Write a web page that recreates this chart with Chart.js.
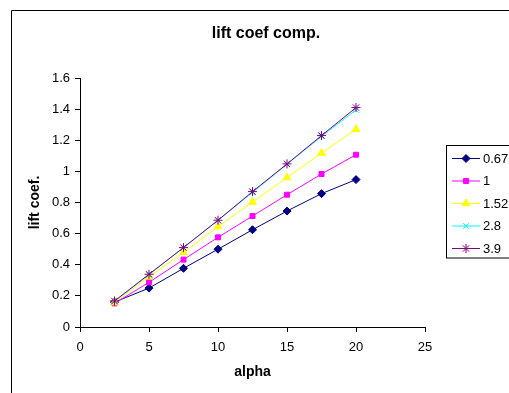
<!DOCTYPE html>
<html>
<head>
<meta charset="utf-8">
<script src="https://cdn.jsdelivr.net/npm/chart.js@4.4.1/dist/chart.umd.min.js"></script>
<style>
  html,body{margin:0;padding:0;background:#fff;}
  #c{display:block;}
</style>
</head>
<body>
<canvas id="c" width="509" height="393"></canvas>
<script>
// alpha values (x)
const alpha = [2.5, 5, 7.5, 10, 12.5, 15, 17.5, 20];
// lift coefficient per series
const s067 = [0.16, 0.25, 0.377, 0.50, 0.625, 0.745, 0.857, 0.947];
const s1   = [0.152, 0.287, 0.433, 0.576, 0.713, 0.85, 0.983, 1.107];
const s152 = [0.157, 0.323, 0.48, 0.645, 0.803, 0.96, 1.118, 1.27];
const s28  = [0.165, 0.335, 0.512, 0.685, 0.865, 1.045, 1.225, 1.395];
const s39  = [0.167, 0.339, 0.51, 0.686, 0.87, 1.048, 1.23, 1.41];
const seriesNames = ['0.67', '1', '1.52', '2.8', '3.9'];
const xTicks = [0, 5, 10, 15, 20, 25];
const chartTitle = 'lift coef comp.';

const FONT = "'Liberation Sans', Arial, sans-serif";
const pts = arr => arr.map((v,i)=>({x: alpha[i], y: v}));

const styles = [
  {color:'#000080', point:'rectRot', r:4},
  {color:'#ff00ff', point:'rect', r:3.5},
  {color:'#ffff00', point:'triangle', r:4.5},
  {color:'#00ffff', point:'crossRot', r:4},
  {color:'#800080', point:'star', r:4.5}
];
const values = [s067, s1, s152, s28, s39];

const datasets = values.map((v,i)=>({
  label: seriesNames[i],
  data: pts(v),
  borderColor: styles[i].color,
  backgroundColor: styles[i].color,
  borderWidth: 1,
  pointStyle: styles[i].point,
  pointRadius: styles[i].r,
  pointBorderWidth: 1,
  order: 5 - i
}));

// frame, title and legend drawn like the original
const extras = {
  id: 'extras',
  afterDraw(chart){
    const ctx = chart.ctx;
    ctx.save();
    ctx.strokeStyle = '#000';
    ctx.lineWidth = 1;
    ctx.beginPath();
    ctx.moveTo(11.5, 393); ctx.lineTo(11.5, 10.5); ctx.lineTo(509, 10.5);
    ctx.stroke();

    ctx.fillStyle = '#000';
    ctx.font = 'bold 16px ' + FONT;
    ctx.textAlign = 'center';
    ctx.textBaseline = 'middle';
    ctx.fillText(chartTitle, 266, 34);

    // legend
    ctx.strokeStyle = '#000';
    ctx.strokeRect(446.5, 145.5, 80, 112.5);
    ctx.font = '13px ' + FONT;
    ctx.textAlign = 'left';
    chart.data.datasets.forEach((ds,i)=>{
      const y = 158 + i*22.5;
      ctx.strokeStyle = ds.borderColor;
      ctx.lineWidth = 1;
      ctx.beginPath(); ctx.moveTo(452, y+0.5); ctx.lineTo(480, y+0.5); ctx.stroke();
      ctx.fillStyle = ds.backgroundColor;
      Chart.helpers.drawPoint(ctx, {pointStyle: ds.pointStyle, radius: ds.pointRadius, borderWidth: 1}, 466, y+0.5);
      ctx.fillStyle = '#000';
      ctx.fillText(ds.label, 483, y+1);
    });
    ctx.restore();
  }
};

new Chart(document.getElementById('c'), {
  type: 'line',
  data: { datasets },
  options: {
    responsive: false,
    animation: false,
    layout: { padding: { left: 0, right: 84, top: 78, bottom: 0 } },
    plugins: {
      legend: { display: false },
      tooltip: { enabled: false },
      title: { display: false }
    },
    scales: {
      x: {
        type: 'linear',
        min: 0, max: 25,
        afterBuildTicks: s => { s.ticks = xTicks.map(v=>({value:v})); },
        afterFit: s => { s.height = 66; },
        grid: { drawOnChartArea: false, tickLength: 5, color: '#000' },
        border: { color: '#000' },
        ticks: { color: '#000', padding: 8, font: { family: FONT, size: 13 } },
        title: { display: true, text: 'alpha', color: '#000',
                 font: { family: FONT, size: 14, weight: 'bold' }, padding: { top: 4, bottom: 12 } }
      },
      y: {
        min: 0, max: 1.6,
        ticks: { stepSize: 0.2, color: '#000', padding: 5, font: { family: FONT, size: 13 },
                 callback: v => String(+v.toFixed(1)) },
        afterFit: s => { s.width = 80; },
        grid: { drawOnChartArea: false, tickLength: 5, color: '#000' },
        border: { color: '#000' },
        title: { display: true, text: 'lift coef.', color: '#000',
                 font: { family: FONT, size: 14, weight: 'bold' }, padding: { top: 27, bottom: 4 } }
      }
    }
  },
  plugins: [extras]
});
</script>
</body>
</html>
